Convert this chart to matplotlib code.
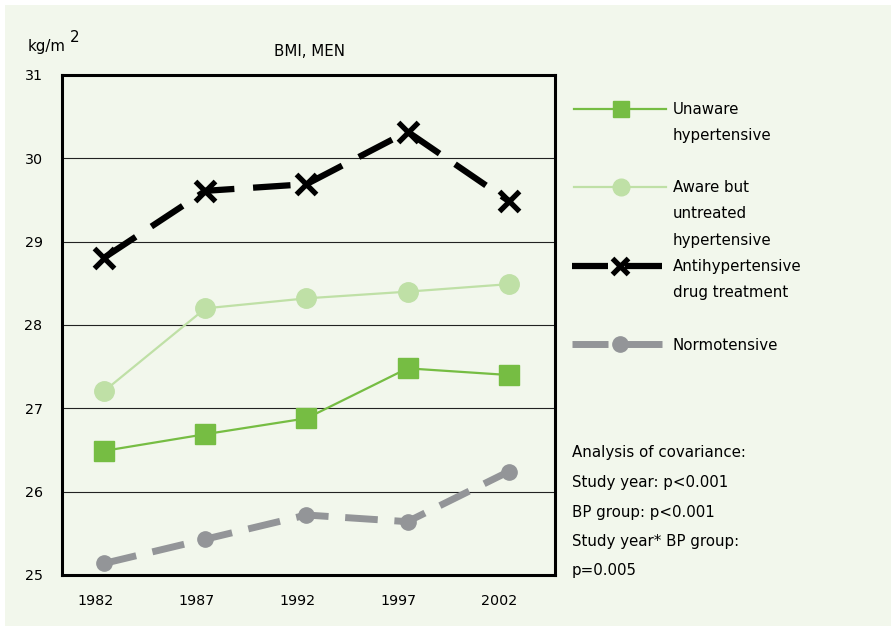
import numpy as np
import matplotlib
matplotlib.use("Agg")
import matplotlib.pyplot as plt
from matplotlib.lines import Line2D
from matplotlib.patches import Rectangle
import matplotlib.transforms as mtransforms

years = ["1982", "1987", "1992", "1997", "2002"]
unaware = [26.49, 26.69, 26.88, 27.48, 27.40]
aware_untreated = [27.21, 28.20, 28.32, 28.40, 28.49]
antihypertensive = [28.81, 29.61, 29.69, 30.32, 29.49]
normotensive = [25.14, 25.43, 25.72, 25.64, 26.24]
y_ticks = [25, 26, 27, 28, 29, 30, 31]
stats_lines = ["Analysis of covariance:", "Study year: p<0.001", "BP group: p<0.001",
               "Study year* BP group:", "p=0.005"]

BG = "#f2f7ec"
GREEN = "#76bd43"
LIGHT = "#bfe0a6"
GREY = "#939598"
FS = 10.8

W, H = 891, 626
fig = plt.figure(figsize=(W / 100, H / 100), dpi=100, facecolor="white")
fig.add_artist(Rectangle((5 / W, 0), 1, 1 - 5 / H, transform=fig.transFigure,
                         facecolor=BG, edgecolor="none", zorder=-10))

ax = fig.add_axes([62 / W, 1 - 575 / H, (555 - 62) / W, (575 - 75) / H])
ax.set_facecolor(BG)
x = np.arange(len(years))

ax.plot(x, normotensive, color=GREY, lw=5, dashes=(4.7, 2.4), marker="o", ms=11,
        zorder=3)
ax.plot(x, antihypertensive, color="black", lw=4.5, dashes=(6, 3.0), marker="x", ms=15,
        mew=3.8, zorder=4)
ax.plot(x, aware_untreated, color=LIGHT, lw=1.6, marker="o", ms=14, zorder=3)
ax.plot(x, unaware, color=GREEN, lw=1.6, marker="s", ms=15, zorder=3)

ax.set_xlim(-0.42, 4.46)
ax.set_ylim(25, 31)
ax.set_yticks(y_ticks)
ax.set_xticks(x)
ax.set_xticklabels(years, fontsize=10.3)
ax.set_yticklabels([str(v) for v in y_ticks], fontsize=10.3)
ax.tick_params(length=0, pad=14, axis="y")
ax.tick_params(length=0, pad=14, axis="x")
offset = mtransforms.ScaledTranslation(-9 / 100, 0, fig.dpi_scale_trans)
for lab in ax.get_xticklabels():
    lab.set_transform(lab.get_transform() + offset)
ax.grid(axis="y", color="#222222", lw=0.8)
ax.set_axisbelow(True)
for sp in ax.spines.values():
    sp.set_linewidth(2.2)

fig.text(309 / W, 1 - 52 / H, "BMI, MEN", ha="center", va="center", fontsize=FS)
fig.text(28 / W, 1 - 46 / H, "kg/m", ha="left", va="center", fontsize=FS)
fig.text(70 / W, 1 - 37 / H, "2", ha="left", va="center", fontsize=FS)

# legend
legend_rows = [
    (109, GREEN, 1.6, False, "s", 12, None, ["Unaware", "hypertensive"]),
    (187, LIGHT, 1.6, False, "o", 12, None, ["Aware but", "untreated", "hypertensive"]),
    (266, "black", 4.5, True, "x", 12, 3.8, ["Antihypertensive", "drug treatment"]),
    (344, GREY, 5, True, "o", 11, None, ["Normotensive"]),
]
for yy, col, lw, split, mk, ms, mew, texts in legend_rows:
    yf = 1 - yy / H
    if split:
        for x0, x1 in [(572, 608), (625, 662)]:
            fig.add_artist(Line2D([x0 / W, x1 / W], [yf, yf], color=col, lw=lw,
                                  solid_capstyle="butt", transform=fig.transFigure))
        kw = dict(color=col, lw=0, marker=mk, ms=ms, transform=fig.transFigure)
        if mew:
            kw["mew"] = mew
        fig.add_artist(Line2D([620 / W], [yf], **kw))
    else:
        fig.add_artist(Line2D([574 / W, 621 / W, 666 / W], [yf, yf, yf], color=col,
                              lw=lw, marker=mk, ms=ms, markevery=[1],
                              transform=fig.transFigure))
    for i, t in enumerate(texts):
        fig.text(673 / W, 1 - (yy + 1 + 26 * i) / H, t, ha="left", va="center",
                 fontsize=FS)

for i, t in enumerate(stats_lines):
    fig.text(572 / W, 1 - (453 + 29.5 * i) / H, t, ha="left", va="center", fontsize=FS)

fig.savefig("out.png", dpi=100, facecolor=fig.get_facecolor())
